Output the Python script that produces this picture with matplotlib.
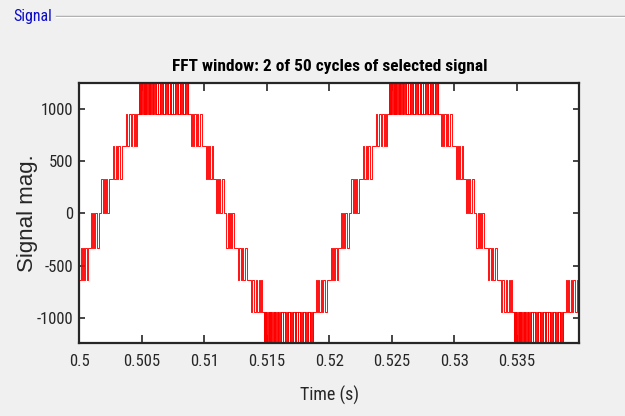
import numpy as np
import matplotlib.pyplot as plt
from matplotlib.lines import Line2D

plt.rcParams['axes.unicode_minus'] = False
NARROW = ['Roboto Condensed', 'PT Sans Narrow', 'Archivo Narrow', 'Liberation Sans', 'DejaVu Sans']
plt.rcParams['font.family'] = NARROW

T0 = 0.5            # s, start of FFT window
HALF_MS = 10.0      # half period of the 50 Hz signal
N_CYCLES = 2

# staircase levels (V), the top one is clipped by the axes
LEVELS = [0, 330, 640, 945, 1300]

# switching instants (ms from the half-cycle start)
BAND_A = [0.14, 0.22, 0.30, 0.38, 0.48, 0.59, 0.72]
BAND_B = [0.91, 1.02, 1.12, 1.20, 1.26, 1.42, 1.55]
BAND_C = [1.76, 1.87, 1.98, 2.06, 2.14, 2.24, 2.40]
BAND_D = [2.67, 2.78, 2.91, 3.04, 3.12, 3.23, 3.39]
BAND_E = [3.71, 3.84, 3.95, 4.11, 4.24, 4.35, 4.43, 4.52, 4.59]
# peak: narrow spikes up to the clipped level
PEAK_SPIKES = [4.75, 4.86, 4.94, 5.04, 5.15, 5.23, 5.34, 5.44, 5.55, 5.66, 5.76,
               5.87, 6.00, 6.14, 6.30, 6.43, 6.56, 6.70, 6.83, 6.96, 7.10, 7.23,
               7.34, 7.50, 7.63, 7.76, 7.90, 8.03, 8.16, 8.30, 8.43, 8.56, 8.70]
SPIKE_MS = 0.02
BAND_G = [8.91, 9.04, 9.10, 9.18, 9.34, 9.42, 9.50, 9.66, 9.82]

BAND_F = [x for s in PEAK_SPIKES for x in (s, s + SPIKE_MS)]
BANDS = [BAND_A, BAND_B, BAND_C, BAND_D, BAND_E, BAND_F, BAND_G]
# level index pair of each band (start level, other level)
BAND_LEVELS = [(-2, -1), (-1, 0), (0, 1), (1, 2), (2, 3), (3, 4), (3, 2)]

X_TICKS = [0.5, 0.505, 0.51, 0.515, 0.52, 0.525, 0.53, 0.535]
X_TICK_LABELS = ['0.5', '0.505', '0.51', '0.515', '0.52', '0.525', '0.53', '0.535']
Y_TICKS = [-1000, -500, 0, 500, 1000]


def level(i):
    return np.sign(i) * LEVELS[abs(i)]


# step trace: second half of each cycle is the negated first half
t_ms = [0.0]
v = [level(-2)]
for cyc in range(N_CYCLES):
    for half, sign in enumerate([1, -1]):
        off = (2 * cyc + half) * HALF_MS
        for toggles, (a, b) in zip(BANDS, BAND_LEVELS):
            for k, tt in enumerate(toggles):
                t_ms.append(off + tt)
                v.append(sign * level(b if k % 2 == 0 else a))
t_ms.append(2 * N_CYCLES * HALF_MS)
v.append(v[-1])
t = T0 + np.array(t_ms) / 1000.0

W, H = 625, 416
fig = plt.figure(figsize=(W / 100, H / 100), dpi=100, facecolor='#f0f0f0')
ax = fig.add_axes([79.3 / W, 1 - 343.3 / H, 500 / W, 260.6 / H])

ax.step(t, v, where='post', color='#ff0000', lw=0.65)
ax.set_xlim(0.5, 0.54)
ax.set_ylim(-1240, 1248)

ax.set_xticks(X_TICKS)
ax.set_xticklabels(X_TICK_LABELS)
ax.set_yticks(Y_TICKS)
ax.tick_params(axis='both', direction='in', top=True, right=True,
               colors='#262626', labelsize=12, width=1.2)
ax.tick_params(axis='x', length=6, pad=8)
ax.tick_params(axis='y', length=4, pad=4)
for sp in ax.spines.values():
    sp.set_color('#262626')
    sp.set_linewidth(1.6)

ax.set_xlabel('Time (s)', fontsize=13, color='#262626')
ax.xaxis.set_label_coords(0.5, -0.165)
ax.set_ylabel('Signal mag.', fontsize=16, color='#262626',
              family=['Liberation Sans', 'DejaVu Sans'])
ax.yaxis.set_label_coords(-0.083, 0.5)
ax.text(0.5, 1.064, 'FFT window: 2 of 50 cycles of selected signal',
        transform=ax.transAxes, ha='center', va='center',
        fontsize=12.5, fontweight='bold', color='black')

# panel frame with its title
fig.add_artist(Line2D([56 / W, 1], [1 - 16 / H] * 2, color='#a0a0a0', lw=1))
fig.add_artist(Line2D([56 / W, 1], [1 - 17.2 / H] * 2, color='white', lw=1))
fig.text(13 / W, 1 - 17 / H, 'Signal', color='#0a0ac8', fontsize=11.5,
         ha='left', va='center')

plt.savefig('out.png', dpi=100, facecolor=fig.get_facecolor())
